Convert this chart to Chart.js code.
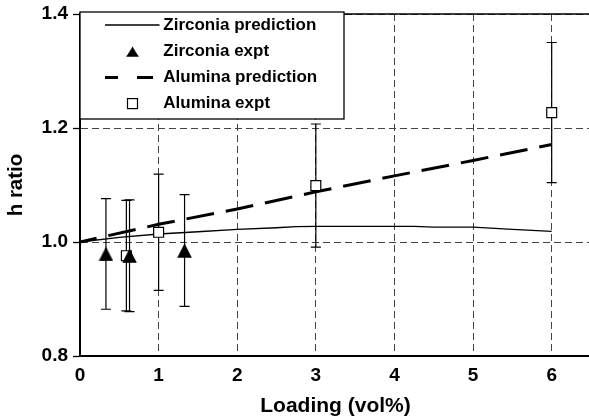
<!DOCTYPE html>
<html>
<head>
<meta charset="utf-8">
<script src="https://cdn.jsdelivr.net/npm/chart.js@4.4.0/dist/chart.umd.min.js"></script>
<style>
  html, body { margin: 0; padding: 0; background: #fff; overflow: hidden; }
  #wrap { position: relative; width: 591px; height: 419px; }
</style>
</head>
<body>
<div id="wrap"><canvas id="c" width="591" height="419"></canvas></div>
<script>
const FONT = "'Liberation Sans', Arial, Helvetica, sans-serif";

// Model curves
const zirPredX = [0, 0.5, 1, 1.5, 2, 2.5, 2.75, 3, 3.5, 4, 4.25, 4.5, 5, 5.5, 6];
const zirPredY = [1.000, 1.008, 1.014, 1.018, 1.022, 1.025, 1.027, 1.0275, 1.0275, 1.0275, 1.0275, 1.026, 1.026, 1.022, 1.0185];
const aluPredX = [0, 1, 2, 3, 4, 5, 6];
const aluPredY = [1.000, 1.031, 1.058, 1.088, 1.116, 1.143, 1.171];

// Measurements with symmetric error
const zirExpX = [0.33, 0.63, 1.33];
const zirExpY = [0.979, 0.976, 0.985];
const zirExpErr = [0.097, 0.098, 0.098];
const aluExpX = [0.59, 1.0, 3.0, 6.0];
const aluExpY = [0.976, 1.017, 1.099, 1.227];
const aluExpErr = [0.097, 0.102, 0.108, 0.123];

// Axes
const xTicks = [0, 1, 2, 3, 4, 5, 6];
const yTicks = [0.8, 1.0, 1.2, 1.4];
const xTitle = 'Loading (vol%)';
const yTitle = 'h ratio';
const seriesLabels = ['Zirconia prediction', 'Zirconia expt', 'Alumina prediction', 'Alumina expt'];

function pts(xs, ys) { return xs.map((x, i) => ({ x: x, y: ys[i] })); }

// Filled triangle marker, centred on its bounding box
function makeTriangle(w, h) {
  const c = document.createElement('canvas');
  c.width = w; c.height = h;
  const g = c.getContext('2d');
  g.fillStyle = '#000';
  g.beginPath();
  g.moveTo(w / 2, 0.2);
  g.lineTo(w - 0.2, h - 0.3);
  g.lineTo(0.2, h - 0.3);
  g.closePath();
  g.fill();
  return c;
}
const triangleMark = makeTriangle(15, 15);

// Vertical error bars with caps, drawn beneath the markers
const errorBars = {
  id: 'errorBars',
  beforeDatasetsDraw(chart) {
    const { ctx, scales: { x, y } } = chart;
    ctx.save();
    ctx.strokeStyle = '#000';
    ctx.lineWidth = 1.2;
    chart.data.datasets.forEach(ds => {
      if (!ds.errors) return;
      ds.data.forEach((p, i) => {
        const e = ds.errors[i];
        const px = x.getPixelForValue(p.x);
        const top = y.getPixelForValue(p.y + e);
        const bot = y.getPixelForValue(p.y - e);
        ctx.beginPath();
        ctx.moveTo(px, top); ctx.lineTo(px, bot);
        ctx.moveTo(px - 5, top); ctx.lineTo(px + 5, top);
        ctx.moveTo(px - 5, bot); ctx.lineTo(px + 5, bot);
        ctx.stroke();
      });
    });
    ctx.restore();
  }
};

// Upper frame line of the plotting area
const frameTop = {
  id: 'frameTop',
  afterDatasetsDraw(chart) {
    const { ctx, chartArea: { left, right, top } } = chart;
    ctx.save();
    ctx.strokeStyle = '#000';
    ctx.lineWidth = 1.5;
    ctx.beginPath();
    ctx.moveTo(left, top); ctx.lineTo(right, top);
    ctx.stroke();
    ctx.restore();
  }
};

// Boxed legend in the upper-left corner of the plot
const boxLegend = {
  id: 'boxLegend',
  afterDraw(chart) {
    const { ctx, chartArea } = chart;
    const bx = chartArea.left, by = chartArea.top - 2, bw = 264, bh = 107;
    ctx.save();
    ctx.fillStyle = '#fff';
    ctx.fillRect(bx, by, bw, bh);
    ctx.strokeStyle = '#000';
    ctx.lineWidth = 1.3;
    ctx.strokeRect(bx, by, bw, bh);

    ctx.font = 'bold 17px ' + FONT;
    ctx.textBaseline = 'middle';
    ctx.textAlign = 'left';
    seriesLabels.forEach((label, i) => {
      const ds = chart.data.datasets.find(d => d.label === label);
      const cy = by + 13 + i * 26.2;
      const cx = bx + 52.5;
      ctx.strokeStyle = '#000';
      ctx.fillStyle = '#000';
      if (ds.showLine) {
        ctx.lineWidth = ds.borderWidth;
        ctx.beginPath();
        if (ds.borderDash) {
          ctx.setLineDash([16, 19]);
          ctx.lineDashOffset = 3;
          ctx.moveTo(bx + 25, cy); ctx.lineTo(bx + 73, cy);
        } else {
          ctx.setLineDash([]);
          ctx.moveTo(bx + 25, cy); ctx.lineTo(bx + 79.5, cy);
        }
        ctx.stroke();
        ctx.setLineDash([]);
      } else if (ds.pointStyle === 'rect') {
        ctx.lineWidth = 1.2;
        ctx.fillStyle = '#fff';
        ctx.fillRect(cx - 5, cy - 5, 10, 10);
        ctx.strokeRect(cx - 5, cy - 5, 10, 10);
        ctx.fillStyle = '#000';
      } else {
        ctx.drawImage(triangleMark, cx - 6.2, cy - 4.8, 12.4, 10.2);
      }
      ctx.fillStyle = '#000';
      ctx.fillText(label, bx + 83.3, cy);
    });
    ctx.restore();
  }
};

new Chart(document.getElementById('c'), {
  type: 'scatter',
  data: {
    datasets: [
      { label: seriesLabels[1], data: pts(zirExpX, zirExpY), errors: zirExpErr,
        pointStyle: triangleMark, pointRadius: 8, order: 0 },
      { label: seriesLabels[3], data: pts(aluExpX, aluExpY), errors: aluExpErr,
        pointStyle: 'rect', pointRadius: 7, backgroundColor: '#fff', borderColor: '#000',
        borderWidth: 1.2, order: 0 },
      { label: seriesLabels[0], data: pts(zirPredX, zirPredY), showLine: true,
        borderColor: '#000', borderWidth: 1.3, pointRadius: 0, tension: 0, order: 1 },
      { label: seriesLabels[2], data: pts(aluPredX, aluPredY), showLine: true,
        borderColor: '#000', borderWidth: 3, borderDash: [28, 12], borderDashOffset: 11,
        pointRadius: 0, tension: 0, order: 1 }
    ]
  },
  options: {
    responsive: false,
    animation: false,
    devicePixelRatio: 1,
    layout: { autoPadding: false, padding: { top: 14, left: 0, right: 0, bottom: 0 } },
    plugins: { legend: { display: false }, tooltip: { enabled: false } },
    scales: {
      x: {
        type: 'linear', min: 0, max: 6.5,
        afterFit: s => { s.height = 63; s.paddingLeft = 0; s.paddingRight = 0; },
        afterBuildTicks: s => { s.ticks = xTicks.map(v => ({ value: v })); },
        ticks: { color: '#000', padding: 8, font: { family: FONT, size: 19, weight: 'bold' },
                 callback: v => String(v) },
        grid: { color: '#444', lineWidth: 1, drawTicks: false },
        border: { display: true, color: '#000', width: 2, dash: [7, 4] },
        title: { display: true, text: xTitle, color: '#000', padding: { top: 0, bottom: 0 },
                 font: { family: FONT, size: 21, weight: 'bold' } }
      },
      y: {
        type: 'linear', min: 0.8, max: 1.4,
        afterFit: s => { s.width = 80; s.paddingTop = 0; s.paddingBottom = 0; },
        afterBuildTicks: s => { s.ticks = yTicks.map(v => ({ value: v })); },
        ticks: { color: '#000', padding: 5, font: { family: FONT, size: 19, weight: 'bold' },
                 callback: v => Number(v).toFixed(1) },
        grid: { color: '#444', lineWidth: 1, drawTicks: true, tickLength: 7,
                tickColor: '#000', tickWidth: 1.3 },
        border: { display: true, color: '#000', width: 2, dash: [7, 4] },
        title: { display: true, text: yTitle, color: '#000', padding: { top: 4, bottom: 0 },
                 font: { family: FONT, size: 20.5, weight: 'bold' } }
      }
    }
  },
  plugins: [errorBars, frameTop, boxLegend]
});
</script>
</body>
</html>
